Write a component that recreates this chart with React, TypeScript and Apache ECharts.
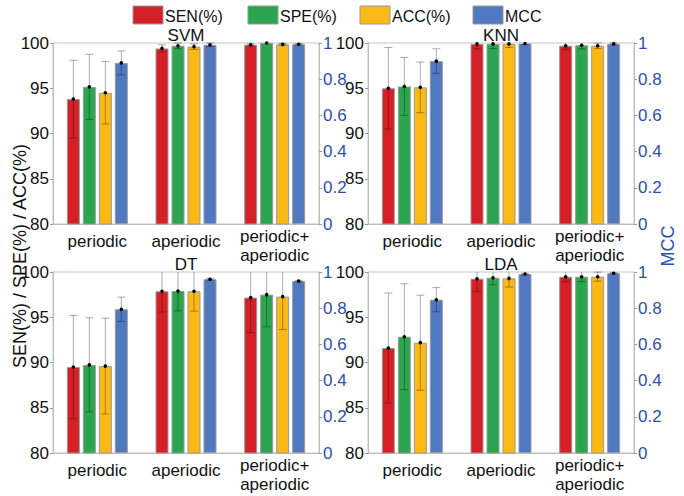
import React, { useEffect, useRef } from 'react';
import * as echarts from 'echarts';

const classifiers = ['SVM', 'KNN', 'DT', 'LDA'];
const categories = ['periodic', 'aperiodic', 'periodic+\naperiodic'];
const metricNames = ['SEN(%)', 'SPE(%)', 'ACC(%)', 'MCC'];
const metricColors = ['#d62027', '#2ca64e', '#fbb915', '#5079c1'];

// rows: SVM, KNN, DT, LDA ; columns: periodic, aperiodic, periodic+aperiodic
const senMean = [[93.8, 99.4, 99.8], [95.0, 99.9, 99.7], [89.5, 97.87, 97.17], [91.6, 99.26, 99.48]];
const senErr = [[4.3, 0.4, 0.1], [4.5, 0.55, 0.4], [5.7, 2.3, 3.87], [6.08, 1.4, 0.57]];
const speMean = [[95.15, 99.7, 100], [95.2, 99.9, 99.75], [89.74, 97.9, 97.5], [92.85, 99.37, 99.48]];
const speErr = [[3.6, 0.3, 0], [3.2, 0.5, 0.4], [5.2, 2.2, 3.57], [5.85, 0.8, 0.55]];
const accMean = [[94.5, 99.6, 99.85], [95.1, 99.9, 99.7], [89.6, 97.87, 97.28], [92.19, 99.3, 99.48]];
const accErr = [[3.45, 0.3, 0.1], [2.8, 0.4, 0.3], [5.3, 2.2, 3.64], [5.25, 0.96, 0.5]];
const mccMean = [[0.89, 0.99, 0.993], [0.9, 0.997, 0.995], [0.794, 0.96, 0.95], [0.847, 0.989, 0.993]];
const mccErr = [[0.066, 0.01, 0.004], [0.068, 0.005, 0.005], [0.067, 0.005, 0.004], [0.067, 0.004, 0.003]];

const leftMin = 80, leftMax = 100, leftInterval = 5;
const rightMin = 0, rightMax = 1, rightInterval = 0.2;
const yLabelLeft = 'SEN(%) / SPE(%) / ACC(%)';
const yLabelRight = 'MCC';

const FONT = '"Liberation Sans", Arial, Helvetica, sans-serif';

export default function App() {
  const ref = useRef<HTMLDivElement>(null);
  useEffect(() => {
    if (!ref.current) return;
    const chart = echarts.init(ref.current, null, { renderer: 'svg' });
    const boxes = [
      { left: 53, top: 43 },
      { left: 368, top: 43 },
      { left: 53, top: 272 },
      { left: 368, top: 272 },
    ];
    const W = 266, H = 181;
    const means = [senMean, speMean, accMean, mccMean];
    const errs = [senErr, speErr, accErr, mccErr];
    const offsets = [-24, -8, 8, 24];

    const grid: any[] = [];
    const xAxis: any[] = [];
    const yAxis: any[] = [];
    const series: any[] = [];
    const graphic: any[] = [];

    boxes.forEach((b, g) => {
      grid.push({ left: b.left, top: b.top, width: W, height: H, show: true, borderColor: '#c4c4c4', borderWidth: 1, containLabel: false });
      xAxis.push({
        type: 'category', gridIndex: g, data: categories,
        axisTick: { show: false },
        axisLine: { lineStyle: { color: '#bdbdbd' } },
        axisLabel: {
          interval: 0, margin: 3, color: '#111', fontFamily: FONT, fontSize: 17,
          formatter: (v: string) => v.indexOf('\n') >= 0
            ? v.split('\n').map((s) => '{m|' + s + '}').join('\n')
            : '{s|' + v + '}',
          rich: {
            m: { fontSize: 17, lineHeight: 19, fontFamily: FONT, color: '#111' },
            s: { fontSize: 17, lineHeight: 29, fontFamily: FONT, color: '#111' },
          },
        },
      });
      yAxis.push({
        type: 'value', gridIndex: g, min: leftMin, max: leftMax, interval: leftInterval, position: 'left',
        axisLine: { show: true, lineStyle: { color: '#bdbdbd' } },
        axisTick: { show: true, length: 3, lineStyle: { color: '#9a9a9a' } },
        axisLabel: { color: '#111', fontSize: 17, fontFamily: FONT, margin: 4 },
        splitLine: { show: false },
      });
      yAxis.push({
        type: 'value', gridIndex: g, min: rightMin, max: rightMax, interval: rightInterval, position: 'right',
        axisLine: { show: true, lineStyle: { color: '#bdbdbd' } },
        axisTick: { show: true, length: 3, lineStyle: { color: '#9a9a9a' } },
        axisLabel: { color: '#2e4fae', fontSize: 17, fontFamily: FONT, margin: 4 },
        splitLine: { show: false },
      });
      for (let m = 0; m < 4; m++) {
        const yIdx = g * 2 + (m === 3 ? 1 : 0);
        series.push({
          type: 'bar', name: metricNames[m], xAxisIndex: g, yAxisIndex: yIdx,
          data: means[m][g], barWidth: 13, barGap: '23%',
          itemStyle: { color: metricColors[m], borderColor: '#9a9a9a', borderWidth: 1 },
          z: 2,
        });
      }
      for (let m = 0; m < 4; m++) {
        const yIdx = g * 2 + (m === 3 ? 1 : 0);
        const off = offsets[m];
        series.push({
          type: 'custom', xAxisIndex: g, yAxisIndex: yIdx, silent: true, z: 5,
          encode: { x: 0, y: 1 },
          data: means[m][g].map((v, i) => [i, v, errs[m][g][i]]),
          renderItem: (params: any, api: any) => {
            const cat = api.value(0), mean = api.value(1), e = api.value(2);
            const c = api.coord([cat, mean]);
            const t = api.coord([cat, mean + e]);
            const bt = api.coord([cat, mean - e]);
            const cs = params.coordSys;
            const x = c[0] + off;
            const children: any[] = [];
            const stroke = 'rgba(0,0,0,0.33)';
            if (e > 0) {
              const yTop = Math.max(t[1], cs.y);
              const yBot = Math.min(bt[1], cs.y + cs.height);
              children.push({ type: 'line', shape: { x1: x, y1: yTop, x2: x, y2: yBot }, style: { stroke, lineWidth: 1 } });
              if (t[1] >= cs.y) children.push({ type: 'line', shape: { x1: x - 4, y1: t[1], x2: x + 4, y2: t[1] }, style: { stroke, lineWidth: 1 } });
              if (bt[1] <= cs.y + cs.height) children.push({ type: 'line', shape: { x1: x - 4, y1: bt[1], x2: x + 4, y2: bt[1] }, style: { stroke, lineWidth: 1 } });
            }
            children.push({ type: 'circle', shape: { cx: x, cy: c[1], r: 1.8 }, style: { fill: '#000' } });
            return { type: 'group', children };
          },
        });
      }
      graphic.push({
        type: 'text', x: b.left + W / 2, y: b.top - 8,
        style: { text: classifiers[g], fontSize: 17, fontFamily: FONT, fill: '#111', align: 'center', verticalAlign: 'middle' },
      });
    });

    const legendX = [133, 248, 360, 473];
    metricNames.forEach((n, i) => {
      graphic.push({ type: 'rect', shape: { x: legendX[i], y: 6, width: 30, height: 18 }, style: { fill: metricColors[i], stroke: '#9a9a9a', lineWidth: 1 } });
      graphic.push({ type: 'text', x: legendX[i] + 32, y: 16, style: { text: n, fontSize: 16, fontFamily: FONT, fill: '#111', align: 'left', verticalAlign: 'middle' } });
    });
    graphic.push({ type: 'text', x: 20, y: 256, rotation: Math.PI / 2, style: { text: yLabelLeft, fontSize: 18, fontFamily: FONT, fill: '#111', align: 'center', verticalAlign: 'middle' } });
    graphic.push({ type: 'text', x: 668, y: 246, rotation: Math.PI / 2, style: { text: yLabelRight, fontSize: 18, fontFamily: FONT, fill: '#2e4fae', align: 'center', verticalAlign: 'middle' } });

    chart.setOption({
      animation: false,
      backgroundColor: '#ffffff',
      textStyle: { fontFamily: FONT },
      grid, xAxis, yAxis, series, graphic,
    });
    return () => chart.dispose();
  }, []);
  return <div ref={ref} style={{ position: 'fixed', left: 0, top: 0, width: 684, height: 496 }} />;
}
